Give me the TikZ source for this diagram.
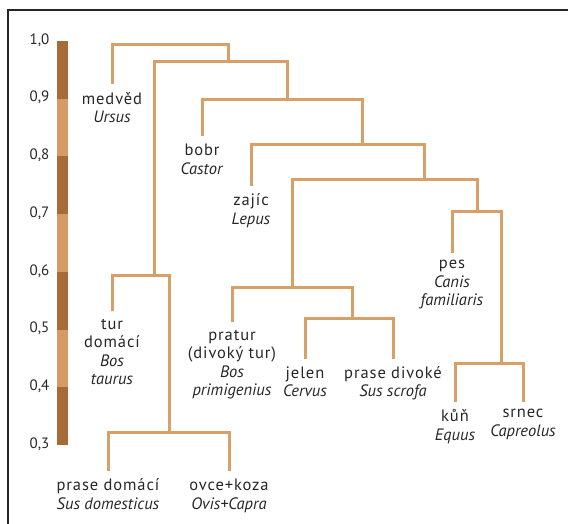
\documentclass[tikz,border=0pt]{standalone}
\usepackage{fontspec}
\setmainfont{PT Sans}[UprightFeatures={LetterSpace=5.5}]
\newfontfamily\tickfont{PT Sans}
\definecolor{branch}{RGB}{214,160,102}
\definecolor{bardark}{RGB}{166,107,54}
\definecolor{barlight}{RGB}{212,156,100}
\definecolor{ink}{RGB}{38,38,38}
\newcommand\leaffont{\fontsize{16.5pt}{18.5pt}\selectfont}
\newcommand\ascstrut{\rule{0pt}{12pt}}
\begin{document}
\begin{tikzpicture}[x=1pt,y=-1pt,
  leaf/.style={align=center, inner sep=0pt, outer ysep=8pt, outer xsep=0pt,
    anchor=north, font=\leaffont, text=ink, execute at begin node=\ascstrut},
  branchline/.style={draw=branch, line width=3pt},
  tick/.style={anchor=base east, font=\tickfont\fontsize{15pt}{18pt}\selectfont, text=ink, inner sep=0pt},
  frameline/.style={draw=ink, line width=1.5pt}]
\useasboundingbox (0,0) rectangle (568,524);

% frame: top and left edges only
\draw[frameline] (8,524) -- (8,10) -- (568,10);

% similarity scale
\foreach \i/\c in {0/bardark,1/barlight,2/bardark,3/barlight,4/bardark,5/barlight,6/bardark}
  \fill[\c] (57,{41+57.7*\i}) rectangle (68,{41+57.7*(\i+1)});
\foreach \i/\t in {0/{1,0},1/{0,9},2/{0,8},3/{0,7},4/{0,6},5/{0,5},6/{0,4},7/{0,3}}
  \node[tick] (t\i) at (49.5,{41+57.7*\i+3.3}) {\t};

% leaves
\node[leaf] (medved)   at (112,84)    {medvěd\\\textit{Ursus}};
\node[leaf] (bobr)     at (202,136)   {bobr\\\textit{Castor}};
\node[leaf] (zajic)    at (251,186)   {zajíc\\\textit{Lepus}};
\node[leaf] (pes)      at (452,252.5) {pes\\\textit{Canis}\\\textit{familiaris}};
\node[leaf] (tur)      at (112,311)   {tur\\domácí\\\textit{Bos}\\\textit{taurus}};
\node[leaf] (pratur)   at (232,322)   {pratur\\(divoký tur)\\\textit{Bos}\\\textit{primigenius}};
\node[leaf] (jelen)    at (305,358.5) {jelen\\\textit{Cervus}};
\node[leaf] (prasediv) at (393,358.5) {prase divoké\\\textit{Sus scrofa}};
\node[leaf] (kun)      at (455,401.5) {kůň\\\textit{Equus}};
\node[leaf] (srnec)    at (523,401.5) {srnec\\\textit{Capreolus}};
\node[leaf] (prasedom) at (108,471)   {prase domácí\\\textit{Sus domesticus}};
\node[leaf] (ovce)     at (229,471)   {ovce+koza\\\textit{Ovis+Capra}};

% junctions (stub x, bar y)
\coordinate (j0)  at (170,45);
\coordinate (j1)  at (228,62);
\coordinate (j2)  at (154,275);
\coordinate (j3)  at (287,100);
\coordinate (j4)  at (362,145);
\coordinate (j5)  at (424,180);
\coordinate (j6)  at (292,287);
\coordinate (j7)  at (477,212);
\coordinate (j8)  at (501,363);
\coordinate (j9)  at (352,318);
\coordinate (j10) at (169,432);

% dendrogram
\draw[branchline] (medved.north) |- (j0) -| (j1);
\draw[branchline] (j2) |- (j1) -| (j3);
\draw[branchline] (bobr.north) |- (j3) -| (j4);
\draw[branchline] (zajic.north) |- (j4) -| (j5);
\draw[branchline] (j6) |- (j5) -| (j7);
\draw[branchline] (pes.north) |- (j7) -| (j8);
\draw[branchline] (kun.north) |- (j8) -| (srnec.north);
\draw[branchline] (pratur.north) |- (j6) -| (j9);
\draw[branchline] (jelen.north) |- (j9) -| (prasediv.north);
\draw[branchline] (tur.north) |- (j2) -| (j10);
\draw[branchline] (prasedom.north) |- (j10) -| (ovce.north);
\end{tikzpicture}
\end{document}
